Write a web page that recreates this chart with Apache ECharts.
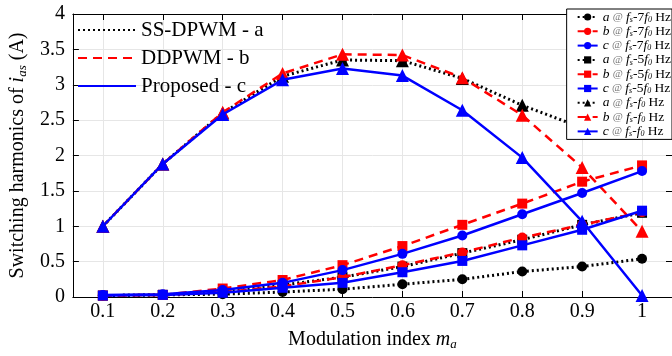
<!DOCTYPE html>
<html>
<head>
<meta charset="utf-8">
<script src="https://cdn.jsdelivr.net/npm/echarts@6/dist/echarts.min.js"></script>
<style>
  html, body { margin: 0; padding: 0; background: #fff; }
  #main { width: 672px; height: 356px; }
</style>
</head>
<body>
<div id="main"></div>
<script>
// modulation index values
var mIndex = [0.1, 0.2, 0.3, 0.4, 0.5, 0.6, 0.7, 0.8, 0.9, 1];

// fs-7f0
var a7 = [0.02, 0.03, 0.04, 0.07, 0.11, 0.18, 0.25, 0.36, 0.43, 0.54];
var b7 = [0.02, 0.03, 0.07, 0.15, 0.28, 0.45, 0.63, 0.84, 1.02, 1.2];
var c7 = [0.03, 0.04, 0.1, 0.2, 0.38, 0.61, 0.87, 1.17, 1.47, 1.78];
// fs-5f0
var a5 = [0.02, 0.03, 0.07, 0.17, 0.28, 0.43, 0.62, 0.81, 1.02, 1.19];
var b5 = [0.02, 0.03, 0.12, 0.24, 0.45, 0.72, 1.02, 1.32, 1.63, 1.86];
var c5 = [0.02, 0.03, 0.06, 0.13, 0.2, 0.35, 0.51, 0.73, 0.95, 1.22];
// fs-f0
var a1 = [1.0, 1.88, 2.6, 3.12, 3.35, 3.34, 3.09, 2.71, 2.39, 2.33];
var b1 = [1.0, 1.88, 2.61, 3.16, 3.43, 3.42, 3.1, 2.57, 1.83, 0.93];
var c1 = [1.0, 1.88, 2.58, 3.07, 3.23, 3.13, 2.64, 1.97, 1.07, 0.02];

var methods = ['SS-DPWM - a', 'DDPWM - b', 'Proposed - c'];

var FONT = 'Liberation Serif';

var styles = {
  a: { color: '#000', type: [2, 3], width: 3 },
  b: { color: '#ff0000', type: [9, 6], width: 2.5 },
  c: { color: '#0000ff', type: 'solid', width: 2.5 }
};

function pairs(vals) {
  return mIndex.map(function (m, i) { return [m, vals[i]]; });
}

function harm(name, key, vals, symbol) {
  var st = styles[key];
  return {
    name: name,
    type: 'line',
    data: pairs(vals),
    symbol: symbol,
    symbolSize: symbol == 'triangle' ? 13 : 10,
    showSymbol: true,
    color: st.color,
    lineStyle: { color: st.color, type: st.type, width: st.width },
    itemStyle: { color: st.color },
    z: key == 'c' ? 5 : (key == 'b' ? 4 : 3)
  };
}

var harmList = [
  ['a7', 'a', a7, 'circle'], ['b7', 'b', b7, 'circle'], ['c7', 'c', c7, 'circle'],
  ['a5', 'a', a5, 'rect'], ['b5', 'b', b5, 'rect'], ['c5', 'c', c5, 'rect'],
  ['a1', 'a', a1, 'triangle'], ['b1', 'b', b1, 'triangle'], ['c1', 'c', c1, 'triangle']
];

var series = [];
methods.forEach(function (name, i) {
  var st = styles['abc'[i]];
  series.push({
    name: name,
    type: 'line',
    data: [],
    symbol: 'none',
    symbolSize: 0,
    color: st.color,
    lineStyle: { color: st.color, type: st.type, width: st.width }
  });
});
harmList.forEach(function (h) {
  series.push(harm(h[0], h[1], h[2], h[3]));
});

function harmLabel(name) {
  var letter = name[0];
  var k = name.slice(1);
  var mult = k == '1' ? '' : k;
  return '{i|' + letter + '} {at|@} {i|f}{sub|s}{n|-' + mult + '}{i|f}{sub|0}{n| Hz}';
}

var chart = echarts.init(document.getElementById('main'));

var option = {
  animation: false,
  backgroundColor: '#fff',
  grid: { left: 61, top: 14, right: 0, bottom: 49 },
  legend: [{
    data: methods,
    left: 72,
    top: 14,
    orient: 'vertical',
    itemWidth: 58,
    itemHeight: 14,
    itemGap: 6,
    itemStyle: { opacity: 0 },
    textStyle: { fontFamily: FONT, fontSize: 21, color: '#000', lineHeight: 22 }
  }, {
    data: harmList.map(function (h) { return h[0]; }),
    right: 0,
    top: 9,
    orient: 'vertical',
    itemWidth: 20,
    itemHeight: 9,
    itemGap: 0.3,
    backgroundColor: '#fff',
    borderColor: '#000',
    borderWidth: 1,
    padding: [1, 1, 1, 10],
    formatter: harmLabel,
    textStyle: {
      fontFamily: FONT, fontSize: 13, color: '#000', lineHeight: 13,
      rich: {
        i: { fontFamily: FONT, fontStyle: 'italic', fontSize: 13.5, lineHeight: 13, color: '#000' },
        at: { fontFamily: FONT, fontSize: 11, lineHeight: 13, color: '#777' },
        n: { fontFamily: FONT, fontSize: 13.5, lineHeight: 13, color: '#000' },
        sub: { fontFamily: FONT, fontStyle: 'italic', fontSize: 8, lineHeight: 5, verticalAlign: 'bottom', color: '#000' }
      }
    }
  }],
  xAxis: [{
    type: 'value',
    min: 0.05,
    max: 1.05,
    name: '{n|Modulation index }{i|m}{s|a}',
    nameLocation: 'middle',
    nameGap: 32,
    nameTextStyle: {
      rich: {
        n: { fontFamily: FONT, fontSize: 20, lineHeight: 22, color: '#000' },
        i: { fontFamily: FONT, fontSize: 20, lineHeight: 22, fontStyle: 'italic', color: '#000' },
        s: { fontFamily: FONT, fontSize: 13, lineHeight: 8, verticalAlign: 'bottom', fontStyle: 'italic', color: '#000' }
      }
    },
    axisLine: { onZero: false, lineStyle: { color: '#000', width: 1 } },
    axisTick: { inside: true, length: 6, customValues: mIndex, lineStyle: { color: '#000' } },
    axisLabel: {
      customValues: mIndex,
      fontFamily: FONT, fontSize: 20, color: '#000', margin: 5,
      formatter: function (v) { return String(Math.round(v * 10) / 10); }
    },
    splitLine: { show: true, lineStyle: { color: '#e6e6e6', width: 1 } }
  }, {
    type: 'value',
    position: 'top',
    min: 0.05,
    max: 1.05,
    axisLine: { onZero: false, lineStyle: { color: '#000', width: 1 } },
    axisTick: { inside: true, length: 6, customValues: mIndex, lineStyle: { color: '#000' } },
    axisLabel: { show: false },
    splitLine: { show: false }
  }],
  yAxis: [{
    type: 'value',
    min: 0,
    max: 4,
    interval: 0.5,
    name: '{n|Switching harmonics of }{i|i}{s|as}{n| (A)}',
    nameLocation: 'middle',
    nameGap: 35,
    nameRotate: 90,
    nameTextStyle: {
      rich: {
        n: { fontFamily: FONT, fontSize: 20, lineHeight: 22, color: '#000' },
        i: { fontFamily: FONT, fontSize: 20, lineHeight: 22, fontStyle: 'italic', color: '#000' },
        s: { fontFamily: FONT, fontSize: 13, lineHeight: 8, verticalAlign: 'bottom', fontStyle: 'italic', color: '#000' }
      }
    },
    axisLine: { show: true, onZero: false, lineStyle: { color: '#000', width: 1 } },
    axisTick: { show: true, inside: true, length: 6, lineStyle: { color: '#000' } },
    axisLabel: { fontFamily: FONT, fontSize: 20, color: '#000', margin: 8 },
    splitLine: { show: true, lineStyle: { color: '#e6e6e6', width: 1 } }
  }, {
    type: 'value',
    position: 'right',
    min: 0,
    max: 4,
    interval: 0.5,
    axisLine: { show: true, onZero: false, lineStyle: { color: '#000', width: 1 } },
    axisTick: { show: true, inside: true, length: 6, lineStyle: { color: '#000' } },
    axisLabel: { show: false },
    splitLine: { show: false }
  }],
  series: series
};

chart.setOption(option);
</script>
</body>
</html>
